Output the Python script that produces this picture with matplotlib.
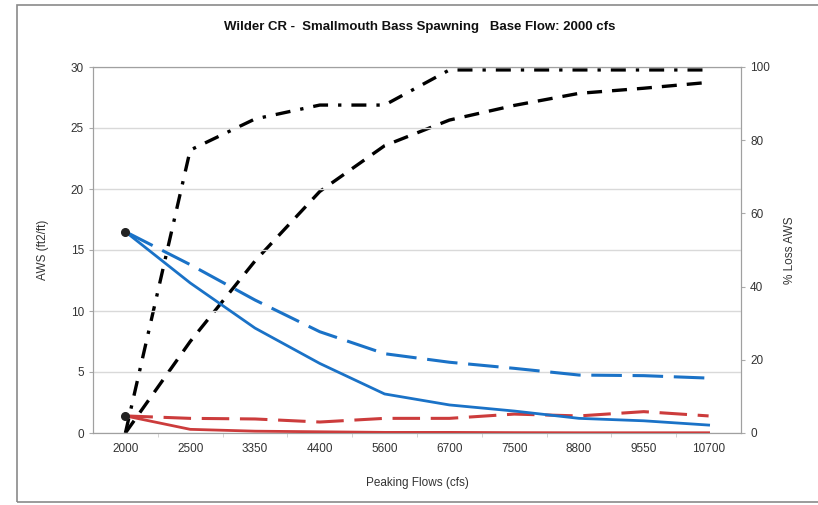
import matplotlib.pyplot as plt
from matplotlib.patches import Rectangle

# peaking flow categories (cfs)
flows = ["2000", "2500", "3350", "4400", "5600", "6700", "7500", "8800", "9550", "10700"]

# AWS (ft2/ft), left axis
aws_blue_solid = [16.5, 12.3, 8.6, 5.7, 3.2, 2.3, 1.8, 1.2, 1.0, 0.65]
aws_blue_dash = [16.5, 13.8, 10.9, 8.3, 6.5, 5.8, 5.3, 4.75, 4.7, 4.5]
aws_red_solid = [1.4, 0.3, 0.15, 0.1, 0.05, 0.05, 0.03, 0.02, 0.02, 0.02]
aws_red_dash = [1.4, 1.2, 1.15, 0.9, 1.2, 1.2, 1.55, 1.4, 1.75, 1.4]

# % loss AWS, right axis
loss_dash = [0, 25, 47, 66, 78.5, 85.5, 89.5, 92.8, 94.2, 95.8]
loss_dashdot = [0, 77.3, 85.8, 89.6, 89.6, 99.2, 99.2, 99.2, 99.2, 99.2]

blue = "#1a72c7"
red = "#cc3c3c"

plt.rcParams["font.family"] = ["Liberation Sans", "DejaVu Sans"]

fig = plt.figure(figsize=(8.18, 5.05), dpi=100)
fig.patches.append(Rectangle((17 / 818, 3 / 505), 1.0, 497 / 505, transform=fig.transFigure,
                             fill=False, edgecolor="#8a8a8a", linewidth=1.2))

ax = fig.add_axes([93 / 818, 1 - 433 / 505, 648 / 818, 366 / 505])
ax2 = ax.twinx()
x = list(range(len(flows)))

ax2.plot(x, loss_dash, color="black", lw=2.4, dashes=(4.5, 3), zorder=3)
ax2.plot(x, loss_dashdot, color="black", lw=2.4, dashes=(4.5, 3, 1, 3), zorder=3)
ax2.set_ylim(0, 100)
ax2.set_yticks([0, 20, 40, 60, 80, 100])

ax.plot(x, aws_red_solid, color=red, lw=2.0, zorder=4)
ax.plot(x, aws_red_dash, color=red, lw=2.2, dashes=(9, 3.5), zorder=4)
ax.plot(x, aws_blue_solid, color=blue, lw=2.0, zorder=4)
ax.plot(x, aws_blue_dash, color=blue, lw=2.2, dashes=(10, 3.5), zorder=4)
ax.plot([0, 0], [aws_blue_solid[0], aws_red_solid[0]], ls="none", marker="o", ms=5.5,
        color="#222222", zorder=5)

ax.set_zorder(ax2.get_zorder() + 1)
ax.patch.set_visible(False)

ax.set_xlim(-0.5, len(flows) - 0.5)
ax.set_ylim(0, 30)
ax.set_yticks([0, 5, 10, 15, 20, 25, 30])
ax.set_xticks(x)
ax.set_xticklabels(flows)
ax.set_xticks([i + 0.5 for i in range(len(flows) - 1)], minor=True)
ax.grid(axis="y", color="#d9d9d9", lw=1.0)
ax.set_axisbelow(True)

for a in (ax, ax2):
    a.tick_params(labelsize=8.5, colors="#333333", length=3, color="#aaaaaa")
    for s in a.spines.values():
        s.set_color("#a0a0a0")
ax.tick_params(axis="x", which="minor", length=3, color="#cccccc")
ax.tick_params(axis="x", which="major", length=0, pad=7)

ax.set_ylabel("AWS (ft2/ft)", fontsize=8.5, color="#333333", labelpad=16)
ax2.set_ylabel("% Loss AWS", fontsize=8.5, color="#333333", labelpad=10)
ax.set_xlabel("Peaking Flows (cfs)", fontsize=8.5, color="#333333", labelpad=16)

fig.text(420 / 818, 1 - 27 / 505, "Wilder CR -  Smallmouth Bass Spawning   Base Flow: 2000 cfs",
         ha="center", va="center", fontsize=9.5, fontweight="bold", color="#111111")

fig.savefig("out.png", dpi=100)
